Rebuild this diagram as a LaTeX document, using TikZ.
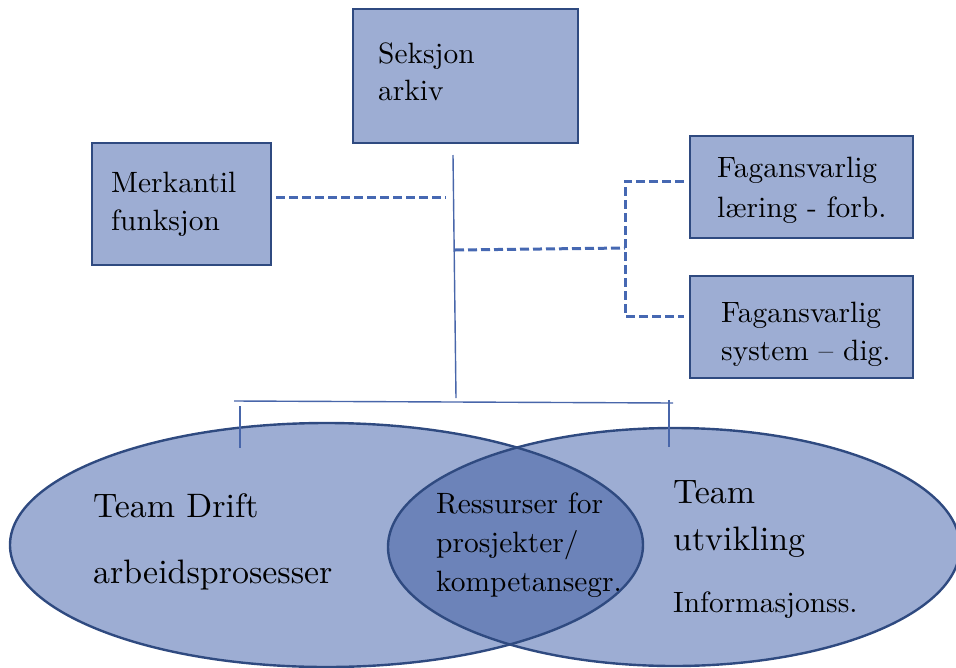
\documentclass[tikz,border=0pt]{standalone}
\usepackage{fontspec}
\setmainfont{lmroman10-regular.otf}
\definecolor{paleblue}{RGB}{157,173,211}
\definecolor{lensblue}{RGB}{108,131,185}
\definecolor{navy}{RGB}{47,74,128}
\definecolor{dashblue}{RGB}{70,104,178}
\definecolor{lineblue}{RGB}{72,102,170}
\begin{document}
\begin{tikzpicture}[x=1pt,y=-1pt,
  box/.style={draw=navy, line width=2.4pt, fill=paleblue, rectangle, inner sep=0pt},
  txt/.style={anchor=base west, inner sep=0pt, font=\fontsize{29.4}{36}\selectfont},
  bigtxt/.style={anchor=base west, inner sep=0pt, font=\fontsize{33.9}{42}\selectfont},
  dashline/.style={draw=dashblue, line width=3pt, dash pattern=on 9pt off 4pt},
  thinline/.style={draw=lineblue, line width=1.4pt},
  teamfill/.style={fill=paleblue},
  teamedge/.style={draw=navy, line width=2.4pt},
]
\clip (0,0) rectangle (956,667);

% boxes
\node[box, minimum width=225pt, minimum height=134pt] (seksjon) at (465.5,76) {};
\node[box, minimum width=179pt, minimum height=122pt] (merkantil) at (181.5,204) {};
\node[box, minimum width=223pt, minimum height=102pt] (laering) at (801.5,187) {};
\node[box, minimum width=223pt, minimum height=102pt] (system) at (801.5,327) {};

% box texts
\node[txt] (seksjonA) at (378,63) {Seksjon};
\node[txt] (seksjonB) at (378,100) {arkiv};
\node[txt] (merkA) at (111,192) {Merkantil};
\node[txt] (merkB) at (111,230) {funksjon};
\node[txt] (laerA) at (717,177) {Fagansvarlig};
\node[txt] (laerB) at (717,217) {læring - forb.};
\node[txt] (sysA) at (721,322) {Fagansvarlig};
\node[txt] (sysB) at (721,360) {system – dig.};

% connector points
\coordinate (stemtop) at (453,155);
\coordinate (stembot) at (456,398);
\coordinate (merkA1) at (276,197);
\coordinate (merkA2) at (446,197);
\coordinate (stemjoin) at (455,250);
\coordinate (fork) at (625,248);
\coordinate (forktop) at (625,181);
\coordinate (forkbot) at (625,316);
\coordinate (laerin) at (684,181);
\coordinate (sysin) at (684,316);
\coordinate (barL) at (234,401);
\coordinate (barR) at (673,403);
\coordinate (tickLa) at (240,406);
\coordinate (tickLb) at (240,448);
\coordinate (tickRa) at (669,400);
\coordinate (tickRb) at (669,447);

% connectors
\draw[thinline] (stemtop) -- (stembot);
\draw[dashline] (merkA1) -- (merkA2);
\draw[dashline] (stemjoin) -- (fork);
\draw[dashline] (laerin) -- (forktop) -- (forkbot) -- (sysin);

% overlapping teams
\fill[teamfill] (326.5,545) ellipse [x radius=316.5, y radius=122];
\fill[teamfill] (674,547) ellipse [x radius=286, y radius=119];
\begin{scope}
  \clip (326.5,545) ellipse [x radius=316.5, y radius=122];
  \fill[lensblue] (674,547) ellipse [x radius=286, y radius=119];
\end{scope}
\draw[teamedge] (326.5,545) ellipse [x radius=316.5, y radius=122];
\draw[teamedge] (674,547) ellipse [x radius=286, y radius=119];

% bracket above teams
\draw[thinline] (barL) -- (barR);
\draw[thinline] (tickLa) -- (tickLb);
\draw[thinline] (tickRa) -- (tickRb);

% team texts
\node[bigtxt] (driftA) at (93,517) {Team Drift};
\node[bigtxt] (driftB) at (93,583) {arbeidsprosesser};
\node[txt] (resA) at (436,513) {Ressurser for};
\node[txt] (resB) at (436,552) {prosjekter/};
\node[txt] (resC) at (436,591) {kompetansegr.};
\node[bigtxt] (utvA) at (673,503) {Team};
\node[bigtxt] (utvB) at (673,550) {utvikling};
\node[txt] (utvC) at (673,612) {Informasjonss.};
\end{tikzpicture}
\end{document}
